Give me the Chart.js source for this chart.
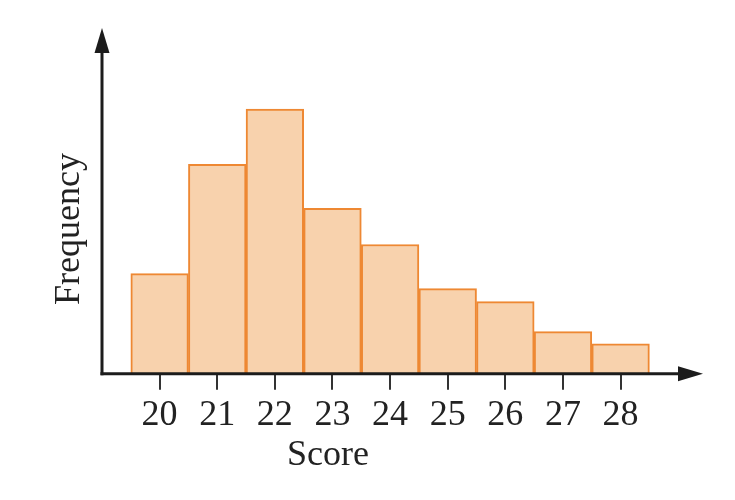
<!DOCTYPE html>
<html>
<head>
<meta charset="utf-8">
<script src="https://cdn.jsdelivr.net/npm/chart.js@4/dist/chart.umd.min.js"></script>
<style>
  html, body { margin: 0; padding: 0; background: #fff; }
  #wrap { width: 735px; height: 500px; }
</style>
</head>
<body>
<div id="wrap"><canvas id="grafico"></canvas></div>
<script>
// Dados do histograma
const scores = [20, 21, 22, 23, 24, 25, 26, 27, 28];
const frequencias = [10, 20.9, 26.4, 16.5, 12.9, 8.5, 7.2, 4.2, 3.0];
const tituloX = 'Score';
const tituloY = 'Frequency';

const corFundo = '#f8d2ad';
const corBorda = '#ee8833';
const corEixo = '#1c1c1c';
const fonte = '"Liberation Serif", "DejaVu Serif", serif';

// Eixos com setas e títulos
const eixosPlugin = {
    id: 'eixos',
    afterDraw(chart) {
        const { ctx, chartArea } = chart;
        const x0 = chartArea.left, y0 = chartArea.bottom;
        ctx.save();
        ctx.strokeStyle = corEixo;
        ctx.fillStyle = corEixo;
        ctx.lineWidth = 3;

        // eixo y
        ctx.beginPath();
        ctx.moveTo(x0, y0 + 1.5);
        ctx.lineTo(x0, chartArea.top + 20);
        ctx.stroke();
        ctx.beginPath();
        ctx.moveTo(x0, chartArea.top);
        ctx.lineTo(x0 - 7.5, chartArea.top + 25);
        ctx.lineTo(x0 + 7.5, chartArea.top + 25);
        ctx.closePath();
        ctx.fill();

        // eixo x
        ctx.beginPath();
        ctx.moveTo(x0 - 1.5, y0);
        ctx.lineTo(chartArea.right - 20, y0);
        ctx.stroke();
        ctx.beginPath();
        ctx.moveTo(chartArea.right, y0);
        ctx.lineTo(chartArea.right - 25, y0 - 7.5);
        ctx.lineTo(chartArea.right - 25, y0 + 7.5);
        ctx.closePath();
        ctx.fill();

        // títulos
        ctx.fillStyle = '#222';
        ctx.font = '36px ' + fonte;
        ctx.textAlign = 'center';
        ctx.textBaseline = 'alphabetic';
        ctx.fillText(tituloX, 328, 465);

        ctx.translate(79, 229);
        ctx.rotate(-Math.PI / 2);
        ctx.fillText(tituloY, 0, 0);
        ctx.restore();
    }
};

new Chart(document.getElementById('grafico'), {
    type: 'bar',
    data: {
        datasets: [{
            label: tituloY,
            data: scores.map((s, i) => ({ x: s, y: frequencias[i] })),
            backgroundColor: corFundo,
            borderColor: corBorda,
            borderWidth: 2,
            barPercentage: 1,
            categoryPercentage: 1
        }]
    },
    options: {
        responsive: true,
        maintainAspectRatio: false,
        animation: false,
        layout: { padding: { left: 102, right: 32, top: 28, bottom: 59 } },
        plugins: {
            legend: { display: false },
            tooltip: { enabled: false }
        },
        scales: {
            x: {
                type: 'linear',
                offset: false,
                min: 19,
                max: 29.43,
                afterBuildTicks: scale => {
                    scale.ticks = scores.map(v => ({ value: v }));
                },
                grid: {
                    offset: false,
                    drawOnChartArea: false,
                    drawTicks: true,
                    tickLength: 16,
                    color: '#333',
                    lineWidth: 2
                },
                border: { display: false },
                ticks: {
                    color: '#222',
                    padding: 4,
                    font: { family: fonte, size: 36 },
                    callback: val => val
                }
            },
            y: {
                display: false,
                min: 0,
                max: 34.5
            }
        }
    },
    plugins: [eixosPlugin]
});
</script>
</body>
</html>
